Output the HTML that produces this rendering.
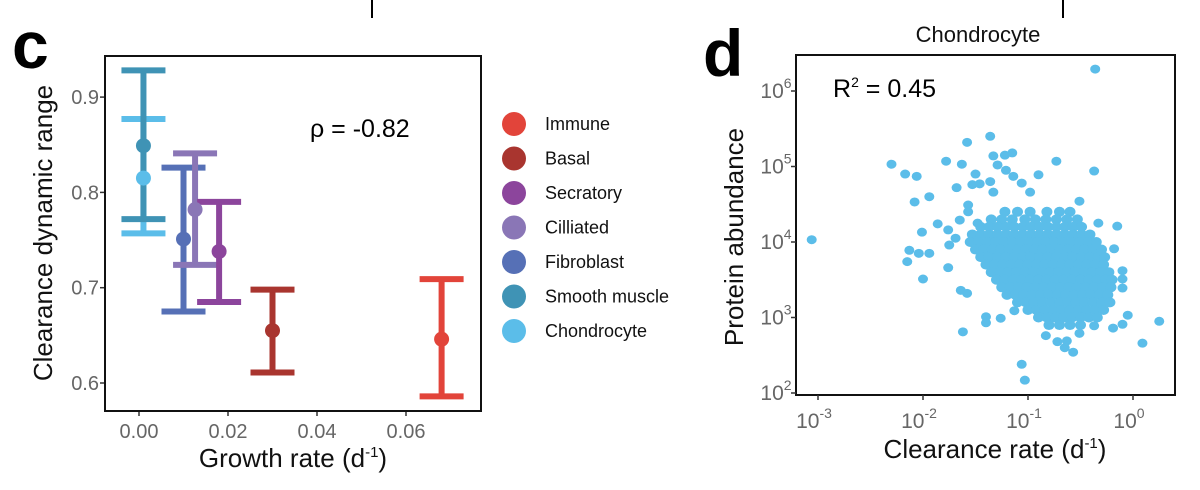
<!DOCTYPE html>
<html><head><meta charset="utf-8"><style>
html,body{margin:0;padding:0;background:#fff;}
svg{display:block;font-family:"Liberation Sans",Arial,sans-serif;}
</style></head><body>
<svg id="fig" width="1200" height="490" viewBox="0 0 1200 490">
<line x1="372" y1="0" x2="372" y2="18" stroke="#000" stroke-width="2"/>
<line x1="1063" y1="0" x2="1063" y2="18" stroke="#000" stroke-width="2"/>
<text x="12" y="68" font-size="66" font-weight="bold">c</text>
<text x="703" y="76" font-size="66" font-weight="bold">d</text>
<g id="pc"></g>
<g id="pd"></g>
</svg>
<script>
// ---- Panel c data ----
const cellTypes = ["Immune","Basal","Secratory","Cilliated","Fibroblast","Smooth muscle","Chondrocyte"];
const typeColors = ["#e2443a","#a9352f","#8c459c","#8a76b6","#5670b6","#3f93b5","#5bbde9"];
const growthRate = [0.068,0.030,0.018,0.0126,0.010,0.001,0.001];
const dynRange = [0.646,0.655,0.738,0.782,0.751,0.849,0.815];
const errLow = [0.586,0.611,0.685,0.724,0.675,0.772,0.757];
const errHigh = [0.709,0.698,0.790,0.841,0.826,0.928,0.877];
const cXTicks = [0,0.02,0.04,0.06];
const cXTickLabels = ["0.00","0.02","0.04","0.06"];
const cYTicks = [0.6,0.7,0.8,0.9];
const cYTickLabels = ["0.6","0.7","0.8","0.9"];

// ---- Panel d data (log10 values) ----
const dXTicks = [-3,-2,-1,0];
const dYTicks = [2,3,4,5,6];
const outlierLogRate = [-0.36,-3.06,-2.30,-2.17,-2.06,-2.08,-1.94,-1.86,-2.01,-2.13,-2.04,-2.15,-1.94,-2.00,-1.78,-1.63,-1.58,-1.36,-1.33,-1.22,-1.15,-1.29,-1.21,-1.14,-1.50,-1.68,-1.53,-1.46,-1.36,-1.33,-1.06,-0.98,-0.90,-0.73,-0.37,-0.51,-0.33,-0.15,-0.18,-0.10,-0.10,-0.10,-0.05,-0.10,-0.19,0.25,0.09,-0.37,-0.51,-0.57,-0.65,-0.72,-0.63,-0.83,-1.06,-1.03,-1.62,-1.40,-1.40,-1.26,-1.13,-1.64,-1.58,-1.76,-1.75,-1.76,-1.69,-1.65,-1.57,-1.57,-1.48];
const outlierLogAbund = [6.29,4.03,5.03,4.90,4.87,4.53,4.60,4.24,4.13,3.89,3.85,3.74,3.85,3.51,5.07,5.03,5.32,5.40,5.14,5.15,5.18,5.02,4.95,4.87,4.90,4.72,4.76,4.77,4.80,4.66,4.78,4.66,4.89,5.07,4.94,4.54,4.25,4.21,3.91,3.62,3.51,3.39,3.03,2.91,2.86,2.95,2.66,2.89,2.79,2.54,2.60,2.68,2.69,2.76,2.38,2.17,2.81,3.01,2.93,2.99,3.09,3.36,3.32,3.66,3.96,4.16,4.05,4.29,4.49,4.40,4.25];
const cloudRowAbund = [4.4,4.3,4.2,4.1,4.0,3.9,3.8,3.7,3.6,3.5,3.4,3.3,3.2,3.1,3.0,2.9];
const cloudRowRates = [
 [-1.22,-1.10,-0.98,-0.82,-0.70,-0.60],
 [-1.35,-1.25,-1.15,-1.03,-0.93,-0.83,-0.73,-0.63,-0.53],
 [-1.45,-1.37,-1.29,-1.21,-1.13,-1.05,-0.97,-0.89,-0.81,-0.73,-0.65,-0.57,-0.49],
 [-1.53,-1.45,-1.37,-1.29,-1.21,-1.13,-1.05,-0.97,-0.89,-0.81,-0.73,-0.65,-0.57,-0.49,-0.41],
 [-1.55,-1.47,-1.39,-1.31,-1.23,-1.15,-1.07,-0.99,-0.91,-0.83,-0.75,-0.67,-0.59,-0.51,-0.43,-0.35],
 [-1.50,-1.42,-1.34,-1.26,-1.18,-1.10,-1.02,-0.94,-0.86,-0.78,-0.70,-0.62,-0.54,-0.46,-0.38,-0.30],
 [-1.45,-1.37,-1.29,-1.21,-1.13,-1.05,-0.97,-0.89,-0.81,-0.73,-0.65,-0.57,-0.49,-0.41,-0.33,-0.27],
 [-1.40,-1.32,-1.24,-1.16,-1.08,-1.00,-0.92,-0.84,-0.76,-0.68,-0.60,-0.52,-0.44,-0.36,-0.28],
 [-1.35,-1.27,-1.19,-1.11,-1.03,-0.95,-0.87,-0.79,-0.71,-0.63,-0.55,-0.47,-0.39,-0.31,-0.23],
 [-1.30,-1.22,-1.14,-1.06,-0.98,-0.90,-0.82,-0.74,-0.66,-0.58,-0.50,-0.42,-0.34,-0.26,-0.20],
 [-1.25,-1.17,-1.09,-1.01,-0.93,-0.85,-0.77,-0.69,-0.61,-0.53,-0.45,-0.37,-0.29,-0.21],
 [-1.20,-1.12,-1.04,-0.96,-0.88,-0.80,-0.72,-0.64,-0.56,-0.48,-0.40,-0.32,-0.24],
 [-1.10,-1.02,-0.94,-0.86,-0.78,-0.70,-0.62,-0.54,-0.46,-0.38,-0.30,-0.22],
 [-1.00,-0.92,-0.84,-0.76,-0.68,-0.60,-0.52,-0.44,-0.36,-0.28],
 [-0.90,-0.82,-0.74,-0.66,-0.58,-0.50,-0.42,-0.34],
 [-0.80,-0.70,-0.60,-0.50]
];

const NS="http://www.w3.org/2000/svg";
function mk(parent,tag,attrs,txt){const e=document.createElementNS(NS,tag);for(const k in attrs)e.setAttribute(k,attrs[k]);if(txt!==undefined)e.textContent=txt;parent.appendChild(e);return e;}

// ---- Panel c ----
const pc=document.getElementById('pc');
const cx=v=>139+(v-0)/0.02*89;
const cy=v=>383-(v-0.6)/0.1*95.3;
for(let i=0;i<cXTicks.length;i++){
  const t=mk(pc,'line',{x1:cx(cXTicks[i]),x2:cx(cXTicks[i]),y1:411,y2:416,stroke:'#333','stroke-width':1.5});
  
  
  const l=mk(pc,'text',{x:cx(cXTicks[i]),y:438,'font-size':20,fill:'#666','text-anchor':'middle'},cXTickLabels[i]);
  
  
}
for(let i=0;i<cYTicks.length;i++){
  const t=mk(pc,'line',{x1:100,x2:105,y1:cy(cYTicks[i]),y2:cy(cYTicks[i]),stroke:'#333','stroke-width':1.5});
  
  
  const l=mk(pc,'text',{x:99,y:cy(cYTicks[i])+7,'font-size':20,fill:'#666','text-anchor':'end'},cYTickLabels[i]);
  
  
}
for(let i=cellTypes.length-1;i>=0;i--){
  const g=mk(pc,'g',{stroke:typeColors[i],'stroke-width':6});
  
  
  const x=cx(growthRate[i]);
  mk(g,'line',{x1:x,x2:x,y1:cy(errLow[i]),y2:cy(errHigh[i])});
  mk(g,'line',{x1:x-22,x2:x+22,y1:cy(errLow[i]),y2:cy(errLow[i])});
  mk(g,'line',{x1:x-22,x2:x+22,y1:cy(errHigh[i]),y2:cy(errHigh[i])});
}
for(let i=cellTypes.length-1;i>=0;i--){
  const p=mk(pc,'circle',{cx:cx(growthRate[i]),cy:cy(dynRange[i]),r:7.5,fill:typeColors[i]});
  
  
}
const boxc=mk(pc,'rect',{x:105,y:56,width:376,height:355,fill:'none',stroke:'#111','stroke-width':2});


const rho=mk(pc,'text',{x:310,y:137,'font-size':25,fill:'#000'},'ρ = -0.82');


const xt=mk(pc,'text',{x:293,y:467,'font-size':26,fill:'#111','text-anchor':'middle'});


xt.innerHTML='Growth rate (d<tspan dy="-10" font-size="15">-1</tspan><tspan dy="10">)</tspan>';
const yt=mk(pc,'text',{x:0,y:0,'font-size':26,fill:'#111','text-anchor':'middle',transform:'translate(52,233) rotate(-90)'},'Clearance dynamic range');


for(let i=0;i<cellTypes.length;i++){
  const g=mk(pc,'g',{});
  
  
  const y=124+i*34.5;
  mk(g,'circle',{cx:514,cy:y,r:12,fill:typeColors[i]});
  mk(g,'text',{x:545,y:y+6,'font-size':18,fill:'#111'},cellTypes[i]);
}

// ---- Panel d ----
const pd=document.getElementById('pd');
const dx=v=>818+(v+3)*105;
const dy=v=>91+(6-v)*75.5;
const pts=mk(pd,'g',{fill:'#5bbde9'});


for(let r=0;r<cloudRowAbund.length;r++){
  for(const xv of cloudRowRates[r]){
    const c=mk(pts,'ellipse',{cx:dx(xv),cy:dy(cloudRowAbund[r]),rx:5.5,ry:5});
    
    
  }
}
for(let i=0;i<outlierLogRate.length;i++){
  const c=mk(pts,'ellipse',{cx:dx(outlierLogRate[i]),cy:dy(outlierLogAbund[i]),rx:5,ry:4.5});
  
  
}
const boxd=mk(pd,'rect',{x:796,y:55,width:379,height:340,fill:'none',stroke:'#111','stroke-width':2});


for(const t of dXTicks){
  const tk=mk(pd,'line',{x1:dx(t),x2:dx(t),y1:395,y2:400,stroke:'#333','stroke-width':1.5});
  
  
  const l=mk(pd,'text',{x:dx(t)-4,y:428,'font-size':21,fill:'#666','text-anchor':'middle'});
  
  
  l.innerHTML='10<tspan dy="-10" font-size="14">'+t+'</tspan>';
}
for(const t of dYTicks){
  const tk=mk(pd,'line',{x1:791,x2:796,y1:dy(t),y2:dy(t),stroke:'#333','stroke-width':1.5});
  
  
  const l=mk(pd,'text',{x:776,y:dy(t)+7,'font-size':21,fill:'#666','text-anchor':'middle'});
  
  
  l.innerHTML='10<tspan dy="-10" font-size="14">'+t+'</tspan>';
}
const ttl=mk(pd,'text',{x:978,y:42,'font-size':22,fill:'#111','text-anchor':'middle'},'Chondrocyte');


const r2=mk(pd,'text',{x:833,y:97,'font-size':25,fill:'#000'});


r2.innerHTML='R<tspan dy="-10" font-size="14">2</tspan><tspan dy="10"> = 0.45</tspan>';
const xt2=mk(pd,'text',{x:995,y:458,'font-size':26,fill:'#111','text-anchor':'middle'});


xt2.innerHTML='Clearance rate (d<tspan dy="-10" font-size="15">-1</tspan><tspan dy="10">)</tspan>';
const yt2=mk(pd,'text',{x:0,y:0,'font-size':26,fill:'#111','text-anchor':'middle',transform:'translate(743,237) rotate(-90)'},'Protein abundance');


</script>
</body></html>
